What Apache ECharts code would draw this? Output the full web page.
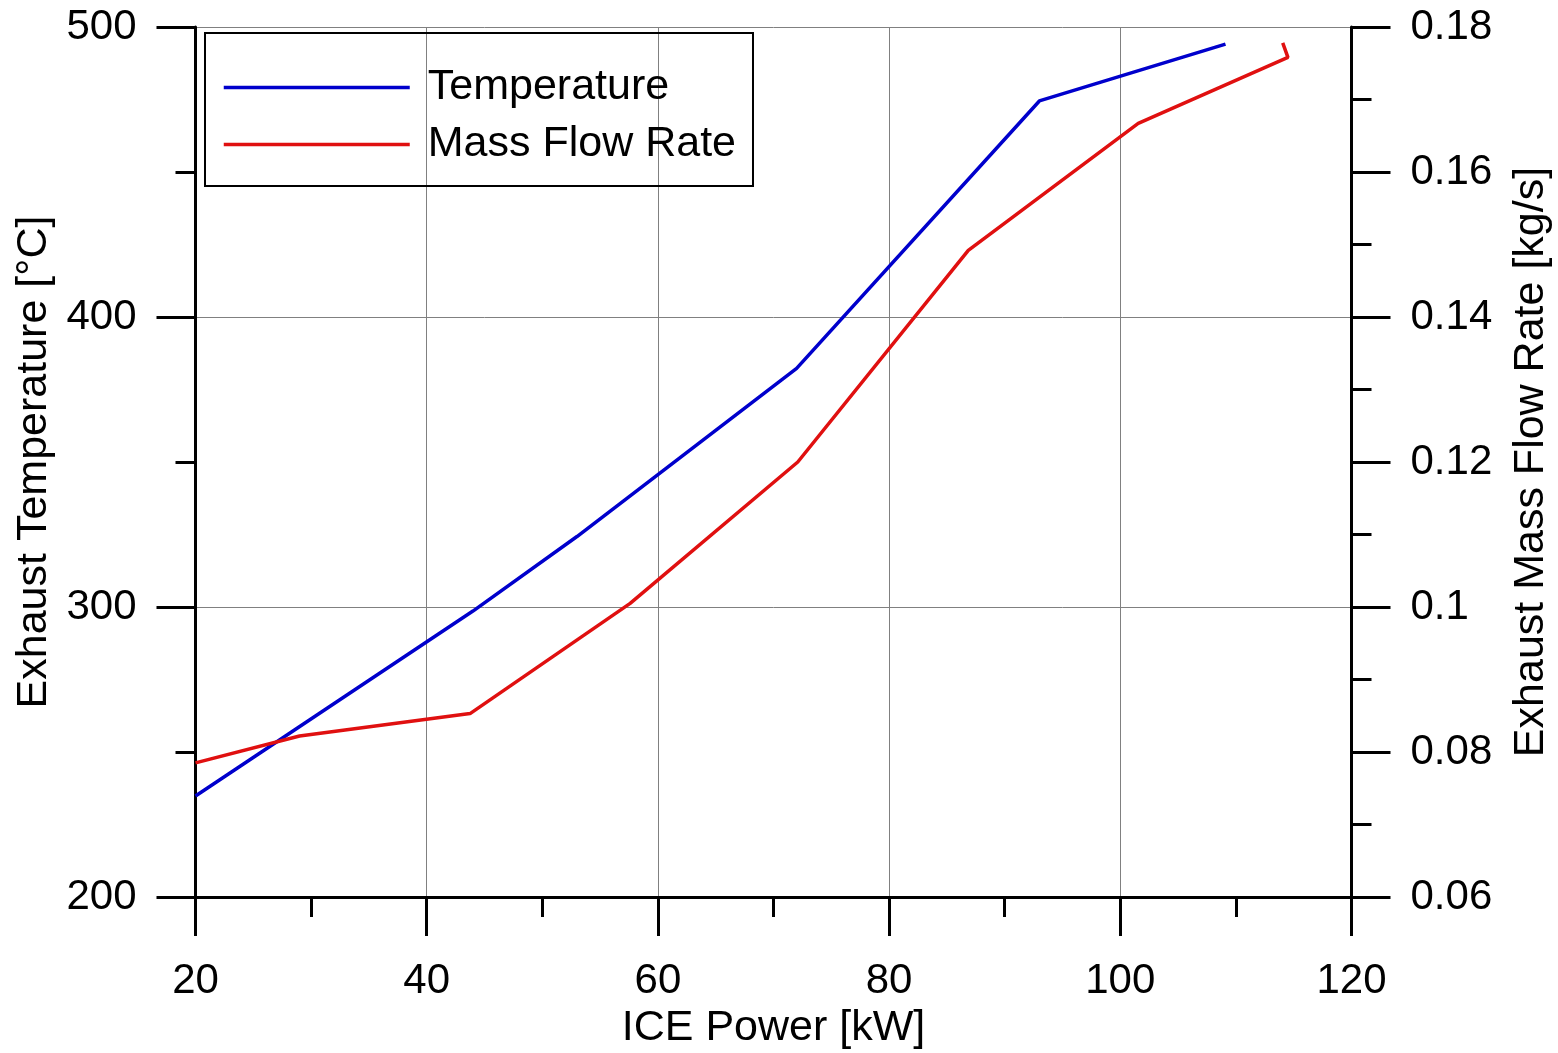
<!DOCTYPE html>
<html>
<head>
<meta charset="utf-8">
<script src="https://cdn.jsdelivr.net/npm/echarts@6/dist/echarts.min.js"></script>
<style>
html,body{margin:0;padding:0;background:#fff;}
#chart{width:1558px;height:1053px;}
</style>
</head>
<body>
<div id="chart"></div>
<script>
// Data
const tempPower = [20, 44, 53, 72, 93, 109.1];
const tempValues = [234.8, 298.6, 324.3, 382.3, 474.5, 494.1];
const flowPower = [20, 29.0, 43.75, 57.6, 72.1, 86.85, 101.55, 114.5, 114.05];
const flowValues = [0.0785, 0.0822, 0.0853, 0.1005, 0.1200, 0.1492, 0.1667, 0.1758, 0.1778];
const seriesNames = ['Temperature', 'Mass Flow Rate'];
const xName = 'ICE Power [kW]';
const yLeftName = 'Exhaust Temperature [°C]';
const yRightName = 'Exhaust Mass Flow Rate [kg/s]';

const FONT = 'Liberation Sans, Arial, sans-serif';
const pairs = (xs, ys) => xs.map((x, i) => [x, ys[i]]);

const chart = echarts.init(document.getElementById('chart'));
const axisCommon = {
  axisLine: {show: true, onZero: false, lineStyle: {color: '#000', width: 3}},
  axisTick: {show: true, inside: false, length: 39, lineStyle: {color: '#000', width: 3}},
  minorTick: {show: true, splitNumber: 2, length: 20, lineStyle: {color: '#000', width: 3}},
  axisLabel: {color: '#000', fontFamily: FONT, fontSize: 42},
  nameTextStyle: {color: '#000', fontFamily: FONT, fontSize: 43},
  nameLocation: 'middle'
};
chart.setOption({
  animation: false,
  backgroundColor: '#fff',
  grid: {left: 195.5, right: 206.5, top: 27, bottom: 156, containLabel: false, outerBoundsMode: 'none'},
  legend: {
    left: 205, top: 33, orient: 'vertical',
    data: seriesNames,
    itemWidth: 186, itemHeight: 20, itemGap: 14,
    padding: [33, 17, 20, 17],
    borderColor: '#000', borderWidth: 2,
    itemStyle: {opacity: 0},
    lineStyle: {width: 3.5},
    textStyle: {color: '#000', fontFamily: FONT, fontSize: 43, padding: [0, 0, 0, 13]}
  },
  xAxis: Object.assign({}, axisCommon, {
    type: 'value', min: 20, max: 120, interval: 20,
    name: xName, nameGap: 110,
    axisLabel: Object.assign({}, axisCommon.axisLabel, {margin: 63}),
    splitLine: {show: true, lineStyle: {color: '#808080', width: 1}}
  }),
  yAxis: [
    Object.assign({}, axisCommon, {
      type: 'value', min: 200, max: 500, interval: 100, position: 'left',
      name: yLeftName, nameGap: 137, nameRotate: 90,
      axisLabel: Object.assign({}, axisCommon.axisLabel, {margin: 59}),
      splitLine: {show: true, lineStyle: {color: '#808080', width: 1}}
    }),
    Object.assign({}, axisCommon, {
      type: 'value', min: 0.06, max: 0.18, interval: 0.02, position: 'right',
      name: yRightName, nameGap: 158, nameRotate: 90,
      axisLabel: Object.assign({}, axisCommon.axisLabel, {margin: 59}),
      splitLine: {show: false}
    })
  ],
  series: [
    {
      name: seriesNames[0], type: 'line', yAxisIndex: 0, symbol: 'none',
      data: pairs(tempPower, tempValues),
      lineStyle: {color: '#0000cc', width: 3.5}, itemStyle: {color: '#0000cc'}, z: 3
    },
    {
      name: seriesNames[1], type: 'line', yAxisIndex: 1, symbol: 'none',
      data: pairs(flowPower, flowValues),
      lineStyle: {color: '#e01010', width: 3.5}, itemStyle: {color: '#e01010'}, z: 3
    }
  ]
});
</script>
</body>
</html>
